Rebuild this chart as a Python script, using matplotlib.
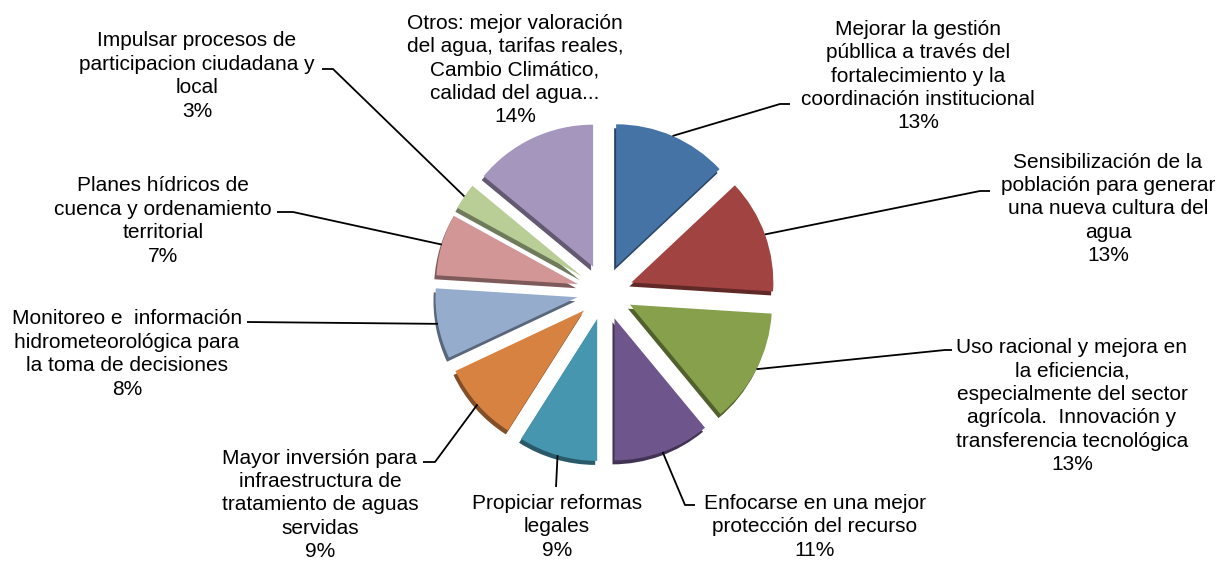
import numpy as np
import matplotlib
matplotlib.use('Agg')
import matplotlib.pyplot as plt
import matplotlib.colors as mcolors

W, H = 1230, 562

labels = [
    'Mejorar la gestión\npúbllica a través del\nfortalecimiento y la\ncoordinación institucional',
    'Sensibilización de la\npoblación para generar\nuna nueva cultura del\nagua',
    'Uso racional y mejora en\nla eficiencia,\nespecialmente del sector\nagrícola.  Innovación y\ntransferencia tecnológica',
    'Enfocarse en una mejor\nprotección del recurso',
    'Propiciar reformas\nlegales',
    'Mayor inversión para\ninfraestructura de\ntratamiento de aguas\nservidas',
    'Monitoreo e  información\nhidrometeorológica para\nla toma de decisiones',
    'Planes hídricos de\ncuenca y ordenamiento\nterritorial',
    'Impulsar procesos de\nparticipacion ciudadana y\nlocal',
    'Otros: mejor valoración\ndel agua, tarifas reales,\nCambio Climático,\ncalidad del agua...',
]
shares = [13, 13, 13, 11, 9, 9, 8, 7, 3, 14]
colors = ['#4673A5', '#A04341', '#87A04B', '#6E558C', '#4696AF',
          '#D78241', '#96ACCD', '#D29696', '#B9CD96', '#A596BE']

# label layout in picture pixels (x, y from top), leader path after the anchor
text_pos = [(918, 76), (1108, 209), (1072, 406), (815, 527), (557, 527),
            (320, 505), (127, 354), (163, 221), (197, 76), (515, 70)]
leaders = [
    [(780, 104), (790, 104)],
    [(980, 191), (990, 191)],
    [(945, 350), (952, 350)],
    [(685, 505), (695, 505)],
    [(556, 487)],
    [(435, 462), (423, 462)],
    [(247, 322)],
    [(293, 212), (277, 212)],
    [(333, 69), (322, 69)],
    None,
]

plt.rcParams['font.family'] = ['Liberation Sans', 'DejaVu Sans']

fig = plt.figure(figsize=(W / 100, H / 100), dpi=100)
ax = fig.add_axes([0, 0, 1, 1])

cx, cy = 605, H - 292
radius = 142
explode = [28] * len(shares)   # pie takes this in data units

# darker copy underneath for the 3D edge
dark = [mcolors.to_hex(np.array(mcolors.to_rgb(c)) * 0.6) for c in colors]
ax.pie(shares, colors=dark, startangle=90, counterclock=False, explode=explode,
       radius=radius, center=(cx - 2, cy - 4),
       wedgeprops=dict(linewidth=0), frame=True)
wedges, _ = ax.pie(shares, colors=colors, startangle=90, counterclock=False,
                   explode=explode, radius=radius, center=(cx, cy),
                   wedgeprops=dict(linewidth=0), frame=True)

for w, lab, pct, pos, lead in zip(wedges, labels, shares, text_pos, leaders):
    ax.text(pos[0], H - pos[1], '{0}\n{1}%'.format(lab, pct), ha='center',
            va='center', multialignment='center', fontsize=15, color='black',
            linespacing=1.29)
    if lead is None:
        continue
    mid = np.deg2rad((w.theta1 + w.theta2) / 2)
    ax0 = w.center[0] + w.r * np.cos(mid)
    ay0 = w.center[1] + w.r * np.sin(mid)
    xs = [ax0] + [p[0] for p in lead]
    ys = [ay0] + [H - p[1] for p in lead]
    ax.plot(xs, ys, color='black', linewidth=1.3, solid_capstyle='butt')

ax.set_xlim(0, W)
ax.set_ylim(0, H)
ax.set_aspect('equal')
ax.axis('off')

fig.savefig('out.png', dpi=100, facecolor='white')
